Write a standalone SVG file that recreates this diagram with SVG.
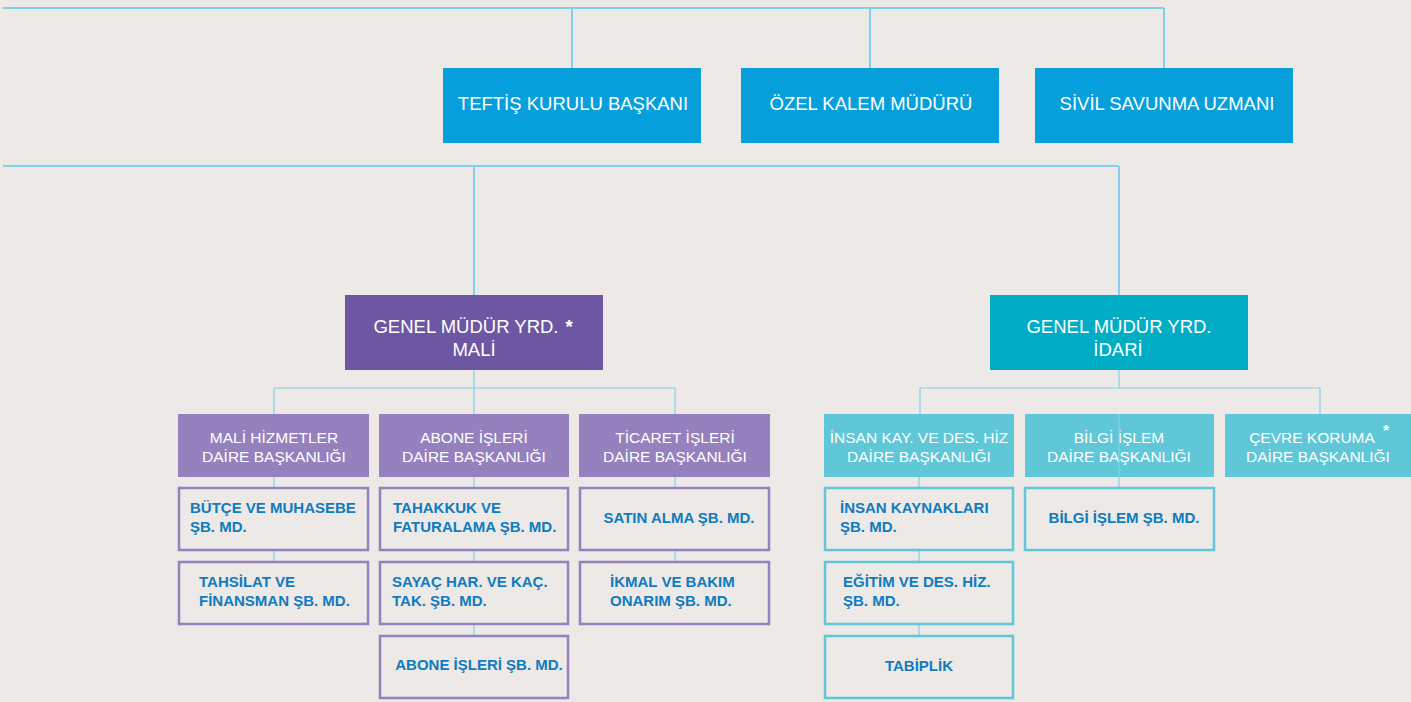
<svg xmlns="http://www.w3.org/2000/svg" width="1411" height="702" viewBox="0 0 1411 702">
<style>
.bg{fill:#ece9e6}
.top{fill:#069fdc}
.gmm{fill:#6e57a2}
.gmi{fill:#00adc5}
.dm{fill:#9581bd}
.di{fill:#5fc7d7}
.sm{fill:#ece9e6;stroke:#9581bd;stroke-width:2.5}
.si{fill:#ece9e6;stroke:#5fc7d7;stroke-width:2.5}
.ln{stroke:#84d0ea;stroke-width:1.2;fill:none}
.lnb{stroke:#84d0ea;stroke-width:2;fill:none}
.wt{fill:#ffffff;font-family:"Liberation Sans",Arial,sans-serif;text-anchor:middle}
.t17{font-size:18.5px}
.t14{font-size:15.5px}
.ast{font-weight:bold}
.bt{fill:#0f7bc0;font-family:"Liberation Sans",Arial,sans-serif;font-size:15px;font-weight:bold}
.c{text-anchor:middle}
</style>
<rect class="bg" x="0" y="0" width="1411" height="702"/>

<g id="connectors">
  <path class="lnb" d="M3 8H1164M572 8V68M870 8V68M1164 8V68"/>
  <path class="lnb" d="M3 166H1119M474 166V295M1119 166V295"/>
  <path class="ln" d="M474 370V388M274 388H675M274 388V414M474 388V414M675 388V414"/>
  <path class="ln" d="M1119 370V388M920 388H1320M920 388V414M1320 388V414"/>
  <path class="ln" d="M274 477V487M274 550V561"/>
  <path class="ln" d="M474 477V487M474 550V561M474 625V635"/>
  <path class="ln" d="M675 477V487M675 550V561"/>
  <path class="ln" d="M919 477V487M919 550V561M919 625V635"/>
</g>

<g id="teftis"><rect class="top" x="443" y="68" width="258" height="75"/><text class="wt t17" x="573" y="110">TEFTİŞ KURULU BAŞKANI</text></g>
<g id="ozel-kalem"><rect class="top" x="741" y="68" width="258" height="75"/><text class="wt t17" x="871" y="110">ÖZEL KALEM MÜDÜRÜ</text></g>
<g id="sivil-savunma"><rect class="top" x="1035" y="68" width="258" height="75"/><text class="wt t17" x="1167" y="110">SİVİL SAVUNMA UZMANI</text></g>

<g id="gmy-mali"><rect class="gmm" x="345" y="295" width="258" height="75"/>
  <text class="wt t17" x="466" y="333">GENEL MÜDÜR YRD.</text>
  <text class="wt t17 ast" x="569" y="333">*</text>
  <text class="wt t17" x="474" y="356">MALİ</text></g>
<g id="gmy-idari"><rect class="gmi" x="990" y="295" width="258" height="75"/>
  <text class="wt t17" x="1119" y="333">GENEL MÜDÜR YRD.</text>
  <text class="wt t17" x="1118" y="356">İDARİ</text></g>

<g id="mali-hizmetler"><rect class="dm" x="178" y="414" width="191" height="63"/>
  <text class="wt t14" x="274" y="443">MALİ HİZMETLER</text><text class="wt t14" x="274" y="462">DAİRE BAŞKANLIĞI</text></g>
<g id="abone-isleri"><rect class="dm" x="379" y="414" width="190" height="63"/>
  <text class="wt t14" x="474" y="443">ABONE İŞLERİ</text><text class="wt t14" x="474" y="462">DAİRE BAŞKANLIĞI</text></g>
<g id="ticaret-isleri"><rect class="dm" x="579" y="414" width="191" height="63"/>
  <text class="wt t14" x="675" y="443">TİCARET İŞLERİ</text><text class="wt t14" x="675" y="462">DAİRE BAŞKANLIĞI</text></g>

<g id="insan-kay"><rect class="di" x="824" y="414" width="190" height="63"/>
  <text class="wt t14" x="919" y="443">İNSAN KAY. VE DES. HİZ</text><text class="wt t14" x="919" y="462">DAİRE BAŞKANLIĞI</text></g>
<g id="bilgi-islem"><rect class="di" x="1025" y="414" width="189" height="63"/>
  <text class="wt t14" x="1119" y="443">BİLGİ İŞLEM</text><text class="wt t14" x="1119" y="462">DAİRE BAŞKANLIĞI</text></g>
<g id="cevre-koruma"><rect class="di" x="1225" y="414" width="186" height="63"/>
  <text class="wt t14" x="1312" y="443">ÇEVRE KORUMA</text><text class="wt t14 ast" x="1386" y="435">*</text><text class="wt t14" x="1318" y="462">DAİRE BAŞKANLIĞI</text></g>
<path class="ln" d="M1119 414V487"/>

<g id="butce"><rect class="sm" x="179" y="488" width="189" height="62"/>
  <text class="bt" x="190" y="513">BÜTÇE VE MUHASEBE</text><text class="bt" x="190" y="532">ŞB. MD.</text></g>
<g id="tahsilat"><rect class="sm" x="179" y="562" width="189" height="62"/>
  <text class="bt" x="199" y="587">TAHSİLAT VE</text><text class="bt" x="199" y="606">FİNANSMAN ŞB. MD.</text></g>
<g id="tahakkuk"><rect class="sm" x="380" y="488" width="188" height="62"/>
  <text class="bt" x="393" y="513">TAHAKKUK VE</text><text class="bt" x="393" y="532">FATURALAMA ŞB. MD.</text></g>
<g id="sayac"><rect class="sm" x="380" y="562" width="188" height="62"/>
  <text class="bt" x="392" y="587">SAYAÇ HAR. VE KAÇ.</text><text class="bt" x="392" y="606">TAK. ŞB. MD.</text></g>
<g id="abone-sb"><rect class="sm" x="380" y="636" width="188" height="62"/>
  <text class="bt c" x="479" y="670">ABONE İŞLERİ ŞB. MD.</text></g>
<g id="satin-alma"><rect class="sm" x="580" y="488" width="189" height="62"/>
  <text class="bt c" x="679" y="523">SATIN ALMA ŞB. MD.</text></g>
<g id="ikmal"><rect class="sm" x="580" y="562" width="189" height="62"/>
  <text class="bt" x="610" y="587">İKMAL VE BAKIM</text><text class="bt" x="610" y="606">ONARIM ŞB. MD.</text></g>

<g id="insan-kaynaklari"><rect class="si" x="825" y="488" width="188" height="62"/>
  <text class="bt" x="840" y="513">İNSAN KAYNAKLARI</text><text class="bt" x="840" y="532">ŞB. MD.</text></g>
<g id="egitim"><rect class="si" x="825" y="562" width="188" height="62"/>
  <text class="bt" x="843" y="587">EĞİTİM VE DES. HİZ.</text><text class="bt" x="843" y="606">ŞB. MD.</text></g>
<g id="tabiplik"><rect class="si" x="825" y="636" width="188" height="62"/>
  <text class="bt c" x="919" y="671">TABİPLİK</text></g>
<g id="bilgi-islem-sb"><rect class="si" x="1025" y="488" width="189" height="62"/>
  <text class="bt c" x="1124" y="523">BİLGİ İŞLEM ŞB. MD.</text></g>
</svg>
